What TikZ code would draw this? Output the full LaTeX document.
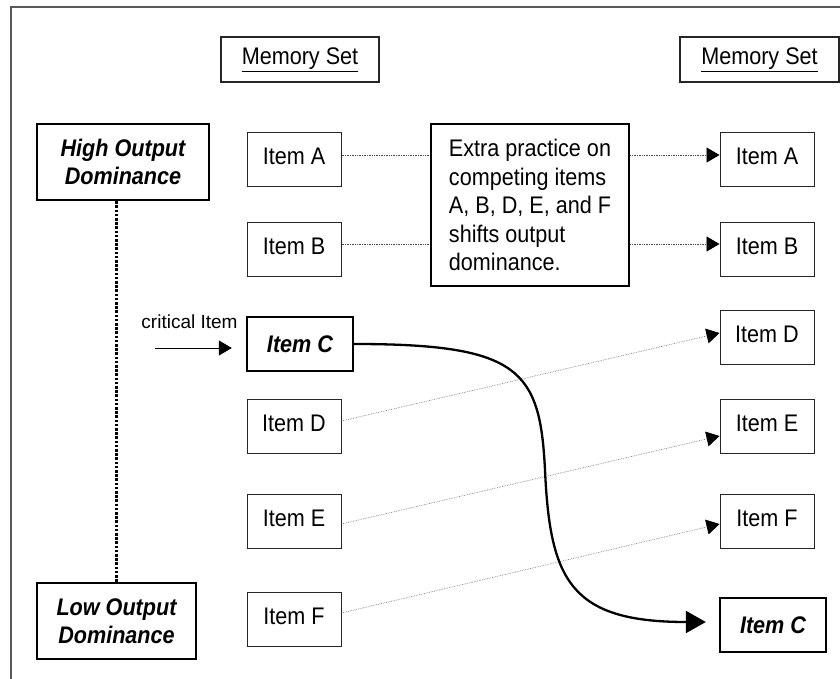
\documentclass[tikz,border=0pt]{standalone}
\usepackage{fontspec}
\setmainfont{Liberation Sans}[FakeStretch=0.9]
\usetikzlibrary{arrows.meta}
\begin{document}
\begin{tikzpicture}[x=1pt,y=-1pt,
  box/.style={draw=black!85, line width=1pt, minimum width=94pt, minimum height=54pt, inner sep=0pt, text height=17pt, text depth=7pt, font=\fontsize{24}{28}\selectfont},
  bbox/.style={draw=black, line width=2.4pt, inner sep=0pt, align=center, font=\fontsize{24}{28}\selectfont\bfseries\itshape},
  setbox/.style={draw=black!85, line width=1.2pt, minimum width=158pt, minimum height=45pt, inner sep=0pt, font=\fontsize{24}{28}\selectfont},
  darkconn/.style={black!70, line width=0.7pt, densely dotted, -{Triangle[length=13pt,width=15pt,color=black]}},
  liteconn/.style={black!50, line width=0.7pt, densely dotted, -{Triangle[length=13pt,width=15pt,color=black]}},
  plainline/.style={black!70, line width=0.7pt, densely dotted},
]
\useasboundingbox (0,0) rectangle (840,679);
\clip (0,0) rectangle (840,679);
\draw[black!65, line width=1.4pt] (11,700) -- (11,7) -- (870,7);

% memory set headers
\node[setbox] (ms1) at (300,59.5) {\underline{Memory Set}};
\node[setbox, minimum width=159pt] (ms2) at (759.5,59.5) {\underline{Memory Set}};

% dominance boxes
\node[bbox, minimum width=172pt, minimum height=76pt] (high) at (123,162) {High Output\\Dominance};
\node[bbox, minimum width=159pt, minimum height=76pt] (low) at (116.5,621) {Low Output\\Dominance};
\draw[line width=2.6pt, dash pattern=on 2.6pt off 1.6pt] (low.north) -- (low.north |- high.south);

% left items
\node[box] (A1) at (294,160) {Item A};
\node[box] (B1) at (294,249) {Item B};
\node[bbox, minimum width=106pt, minimum height=54pt] (C1) at (300,344) {Item C};
\node[box] (D1) at (294,426.5) {Item D};
\node[box] (E1) at (294,521) {Item E};
\node[box] (F1) at (294,619) {Item F};

% right items
\node[box] (A2) at (767,160) {Item A};
\node[box] (B2) at (767,249) {Item B};
\node[box] (D2) at (767,337.5) {Item D};
\node[box] (E2) at (767,426) {Item E};
\node[box] (F2) at (767,521.5) {Item F};
\node[bbox, minimum width=106pt, minimum height=54pt] (C2) at (773,625) {Item C};

% extra practice box
\node[draw=black, line width=2.4pt, minimum width=198pt, minimum height=162pt, inner sep=0pt, align=left, font=\fontsize{24}{28.5}\selectfont] (extra) at (530,205)
  {Extra practice on\\competing items\\A, B, D, E, and F\\shifts output\\dominance.};

% critical item label and arrow
\node[font=\fontsize{19}{22}\selectfont\addfontfeature{FakeStretch=1.0}] (crit) at (189.5,322) {critical Item};
\coordinate (critstart) at (155,348);
\draw[line width=1pt, -{Triangle[length=13pt,width=15pt]}, shorten >=14pt] (critstart) -- (critstart -| C1.west);

% connectors A and B (pass behind extra box)
\draw[plainline] ([yshift=5pt]A1.east) -- ([yshift=5pt]A1.east -| extra.west);
\draw[darkconn] ([yshift=5pt]A1.east -| extra.east) -- ([yshift=5pt]A2.west);
\draw[plainline] ([yshift=5pt]B1.east) -- ([yshift=5pt]B1.east -| extra.west);
\draw[darkconn] ([yshift=5pt]B1.east -| extra.east) -- ([yshift=5pt]B2.west);

% connectors D, E, F
\draw[liteconn] ([yshift=5.5pt]D1.east) -- ([yshift=4.5pt]D2.west);
\draw[liteconn] ([yshift=-3pt]E1.east) -- ([yshift=-10pt]E2.west);
\draw[liteconn] ([yshift=6pt]F1.east) -- ([yshift=-2.5pt]F2.west);

% critical item curve
\draw[line width=2.3pt, -{Triangle[length=20pt,width=22pt]}]
  (C1.east) .. controls (520,344) and (540,370) .. (545,470)
  .. controls (550,580) and (570,622) .. ([xshift=-13pt,yshift=3pt]C2.west);
\end{tikzpicture}
\end{document}
